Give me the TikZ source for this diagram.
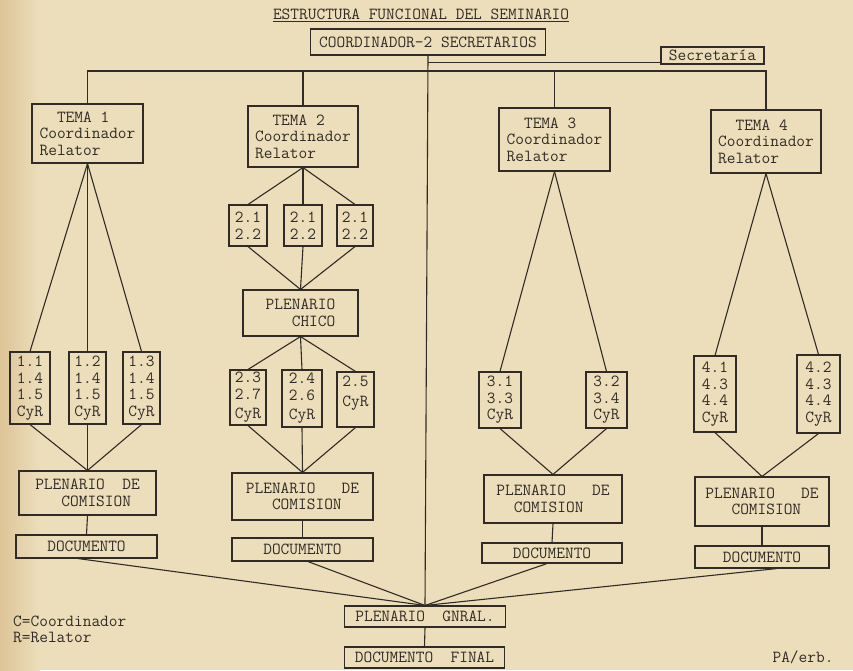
\documentclass[tikz,border=0pt]{standalone}
\usepackage{fontspec}
\usepackage{tikz}
\usetikzlibrary{positioning}
\definecolor{papel}{RGB}{236,222,187}
\definecolor{borde}{RGB}{222,196,152}
\definecolor{tinta}{RGB}{48,43,38}
\newcommand{\maq}{\ttfamily\fontsize{16.9}{16.5}\selectfont}
\tikzstyle{caja} = [rectangle, draw=tinta, line width=1.1pt, inner sep=0pt, align=left, font=\maq, text=tinta]
\tikzstyle{texto} = [inner sep=0pt, align=left, font=\maq, text=tinta]
\tikzstyle{linea} = [draw=tinta, line width=1.1pt]

\begin{document}
\begin{tikzpicture}[x=1pt, y=-1pt]
\fill[papel] (0,0) rectangle (853,670);
\shade[left color=borde, right color=papel] (0,0) rectangle (40,670);
\useasboundingbox (0,0) rectangle (853,670);

\node (titulo) [texto] at (421,15) {\underline{ESTRUCTURA FUNCIONAL DEL SEMINARIO}};
\node (coord) [caja, minimum width=235pt, minimum height=26pt] at (428,42) {COORDINADOR-2 SECRETARIOS};
\node (secr) [caja, minimum width=103pt, minimum height=17pt] at (712.5,55.5) {Secretaría};

\node (t1) [caja, minimum width=111pt, minimum height=59pt] at (87.5,133.5) {~~TEMA 1\\Coordinador\\Relator};
\node (t2) [caja, minimum width=110pt, minimum height=61pt] at (303,136.5) {~~TEMA 2\\Coordinador\\Relator};
\node (t3) [caja, minimum width=111pt, minimum height=63pt] at (554.5,139.5) {~~TEMA 3\\Coordinador\\Relator};
\node (t4) [caja, minimum width=110pt, minimum height=63pt] at (766,141.5) {~~TEMA 4\\Coordinador\\Relator};

\node (s11) [caja, minimum width=40pt, minimum height=72pt] at (30,388) {1.1\\1.4\\1.5\\CyR};
\node (s12) [caja, minimum width=37pt, minimum height=72pt] at (87.5,388) {1.2\\1.4\\1.5\\CyR};
\node (s13) [caja, minimum width=37pt, minimum height=72pt] at (141.5,388) {1.3\\1.4\\1.5\\CyR};
\node (p1) [caja, minimum width=137pt, minimum height=44pt] at (87.5,493) {PLENARIO~~DE\\~~~COMISION};
\node (d1) [caja, minimum width=141pt, minimum height=23pt] at (86.5,546.5) {DOCUMENTO};

\node (q1) [caja, minimum width=38pt, minimum height=41pt] at (248,225.5) {2.1\\2.2};
\node (q2) [caja, minimum width=38pt, minimum height=41pt] at (303,225.5) {2.1\\2.2};
\node (q3) [caja, minimum width=36pt, minimum height=41pt] at (355,225.5) {2.1\\2.2};
\node (chico) [caja, minimum width=115pt, minimum height=46pt] at (300.5,313) {PLENARIO\\~~~CHICO};
\node (r1) [caja, minimum width=36pt, minimum height=55pt] at (248,397.5) {2.3\\2.7\\[3pt]CyR};
\node (r2) [caja, minimum width=40pt, minimum height=57pt] at (302,398.5) {2.4\\2.6\\[3pt]CyR};
\node (r3) [caja, minimum width=37pt, minimum height=55pt] at (355.5,399.5) {2.5\\[4pt]CyR\\[0pt]\mbox{}};
\node (p2) [caja, minimum width=141pt, minimum height=47pt] at (302.5,496.5) {PLENARIO~~~DE\\~~~COMISION};
\node (d2) [caja, minimum width=141pt, minimum height=23pt] at (302.5,549.5) {DOCUMENTO};

\node (u1) [caja, minimum width=42pt, minimum height=56pt] at (500,400) {3.1\\3.3\\CyR};
\node (u2) [caja, minimum width=41pt, minimum height=56pt] at (606.5,400) {3.2\\3.4\\CyR};
\node (p3) [caja, minimum width=138pt, minimum height=48pt] at (553,499) {PLENARIO~~~DE\\~~COMISION};
\node (d3) [caja, minimum width=140pt, minimum height=20pt] at (552,553) {DOCUMENTO};

\node (v1) [caja, minimum width=42pt, minimum height=76pt] at (715,394) {4.1\\4.3\\4.4\\CyR};
\node (v2) [caja, minimum width=43pt, minimum height=78pt] at (818.5,394) {4.2\\4.3\\4.4\\CyR};
\node (p4) [caja, minimum width=134pt, minimum height=49pt] at (762,501.5) {PLENARIO~~~DE\\~~~COMISION};
\node (d4) [caja, minimum width=134pt, minimum height=22pt] at (762,557) {DOCUMENTO};

\node (gnral) [caja, minimum width=161pt, minimum height=21pt] at (425,616.5) {PLENARIO~~GNRAL.};
\node (final) [caja, minimum width=160pt, minimum height=21pt] at (424.5,657.5) {DOCUMENTO~~FINAL};

\node (leyenda) [texto, anchor=west] at (13,629.5) {C=Coordinador\\R=Relator};
\node (firma) [texto] at (803,657) {PA/erb.};

\coordinate (bus) at (0,71);
\coordinate (sj) at ([yshift=2pt]secr.south west);

\draw [linea] (coord.south) -- (gnral.north);
\draw [linea] (sj) -- (sj -| coord.south);
\draw [linea] (t1.north) |- (bus -| t4.north) -- (t4.north);
\draw [linea] (t2.north) -- (t2.north |- bus);
\draw [linea] (t3.north) -- (t3.north |- bus);

\draw [linea] (t1.south) -- (s11.north);
\draw [linea] (t1.south) -- (s12.north);
\draw [linea] (t1.south) -- (s13.north);
\draw [linea] (s11.south) -- (p1.north);
\draw [linea] (s12.south) -- (p1.north);
\draw [linea] (s13.south) -- (p1.north);
\draw [linea] (p1.south) -- (d1.north);

\draw [linea] (t2.south) -- (q1.north);
\draw [linea] (t2.south) -- (q2.north);
\draw [linea] (t2.south) -- (q3.north);
\draw [linea] (q1.south) -- (chico.north);
\draw [linea] (q2.south) -- (chico.north);
\draw [linea] (q3.south) -- (chico.north);
\draw [linea] (chico.south) -- (r1.north);
\draw [linea] (chico.south) -- (r2.north);
\draw [linea] (chico.south) -- (r3.north);
\draw [linea] (r1.south) -- (p2.north);
\draw [linea] (r2.south) -- (p2.north);
\draw [linea] (r3.south) -- (p2.north);
\draw [linea] (p2.south) -- (d2.north);

\draw [linea] (t3.south) -- (u1.north);
\draw [linea] (t3.south) -- (u2.north);
\draw [linea] (u1.south) -- (p3.north);
\draw [linea] (u2.south) -- (p3.north);
\draw [linea] (p3.south) -- (d3.north);

\draw [linea] (t4.south) -- (v1.north);
\draw [linea] (t4.south) -- (v2.north);
\draw [linea] (v1.south) -- (p4.north);
\draw [linea] (v2.south) -- (p4.north);
\draw [linea] (p4.south) -- (d4.north);

\draw [linea] ([xshift=-8.5pt]d1.south) -- (gnral.north);
\draw [linea] ([xshift=5.5pt]d2.south) -- (gnral.north);
\draw [linea] ([xshift=-5pt]d3.south) -- (gnral.north);
\draw [linea] ([xshift=15pt]d4.south) -- (gnral.north);
\draw [linea] (gnral.south) -- (final.north);

\end{tikzpicture}
\end{document}
